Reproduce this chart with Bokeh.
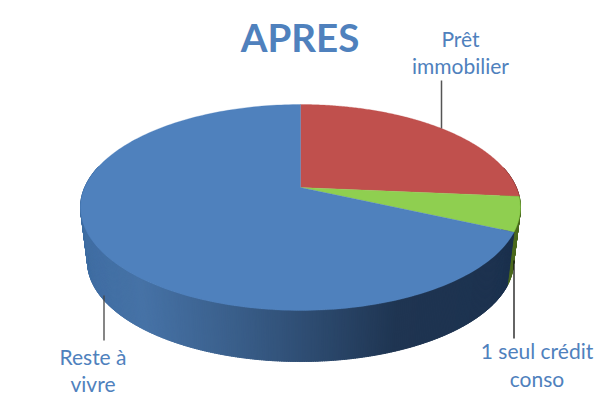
import numpy as np
from bokeh.plotting import figure
from bokeh.models import Range1d
from bokeh.core.properties import value
from bokeh.embed import file_html
from bokeh.resources import INLINE

# --- data ---
categories = ["Prêt immobilier", "1 seul crédit conso", "Reste à vivre"]
shares = [26.4, 5.4, 68.2]
title_text = "APRES"

# --- style ---
top_colors = ["#c0504d", "#8fcf50", "#4f81bd"]
wall_stops_x = [80, 140, 230, 300, 395, 520]
wall_blue = [(0x40, 0x6e, 0xa3), (0x46, 0x72, 0xa6), (0x3a, 0x5f, 0x8b), (0x2f, 0x4e, 0x74),
             (0x1f, 0x35, 0x52), (0x1c, 0x31, 0x4e)]
wall_green = "#4c6b20"
wall_red = "#7a3230"
text_color = "#4f81bd"

# --- projection of the 3D disc to page pixels ---
CX, CY, A, B, K = 300.0, 187.0, 99.1, 215.8, 0.194
BOTTOM_SCALE, BOTTOM_CY = 0.968, 242.0


def top_rim(t):
    u, v = np.sin(t), -np.cos(t)
    d = 1 - K * v
    return CX + B * u / d, CY + A * v / d


def bottom_rim(t):
    u, v = np.sin(t), -np.cos(t)
    d = 1 - K * v
    return CX + BOTTOM_SCALE * B * u / d, BOTTOM_CY + BOTTOM_SCALE * A * v / d


def wall_rgb(x):
    chans = [np.interp(x, wall_stops_x, [c[i] for c in wall_blue]) for i in range(3)]
    return "#%02x%02x%02x" % tuple(int(round(c)) for c in chans)


p = figure(width=600, height=400, output_backend="svg", toolbar_location=None,
           x_range=Range1d(0, 600), y_range=Range1d(400, 0),
           min_border=0, outline_line_color=None)
p.axis.visible = False
p.grid.visible = False
p.background_fill_color = "#ffffff"
p.border_fill_color = "#ffffff"

edges = np.concatenate([[0], np.cumsum(shares)]) / np.sum(shares) * 2 * np.pi

# side wall as fine strips
wx, wy, wc = [], [], []
tmin, tmax = np.radians(78), np.radians(282)
ts = np.arange(tmin, tmax, np.radians(0.5))
for t0 in ts:
    t1 = t0 + np.radians(0.8)
    xa, ya = top_rim(np.array([t0, t1]))
    xb, yb = bottom_rim(np.array([t1, t0]))
    wx.append(list(xa) + list(xb))
    wy.append(list(ya) + list(yb))
    tm = (t0 + t1) / 2
    if tm < edges[1]:
        c = wall_red
    elif tm < edges[2]:
        c = wall_green
    else:
        c = wall_rgb(float(top_rim(tm)[0]))
    wc.append(c)
p.patches(wx, wy, fill_color=wc, line_color=wc, line_width=0.8)

# top face
for i, c in enumerate(top_colors):
    t = np.linspace(edges[i], edges[i + 1], 200)
    x, y = top_rim(t)
    p.patch([CX] + list(x), [CY] + list(y), fill_color=c, line_color=c, line_width=0.3)

# leader lines
p.segment([441], [80], [441], [128], line_color="#555555", line_width=1.5)
p.segment([513.5], [260], [513.5], [338], line_color="#111111", line_width=1.3)
p.segment([103.5], [295], [103.5], [340], line_color="#444444", line_width=1.3)

# texts
p.text([299.5], [36], text=[title_text], text_font=value("Lato"), text_font_style="bold",
       text_font_size="38.5px", text_color=text_color, text_align="center", text_baseline="alphabetic")
lab_x = [460, 460, 536.5, 536.5, 92.5, 92.5]
lab_y = [37.5, 64.5, 349.5, 377.5, 355.5, 382.5]
lab_t = ["Prêt", "immobilier", "1 seul crédit", "conso", "Reste à", "vivre"]
p.text(lab_x, lab_y, text=lab_t, text_font=value("Lato"), text_font_size="21px",
       text_color=text_color, text_align="center", text_baseline="alphabetic")

open("out.html", "w").write(file_html(p, INLINE))
